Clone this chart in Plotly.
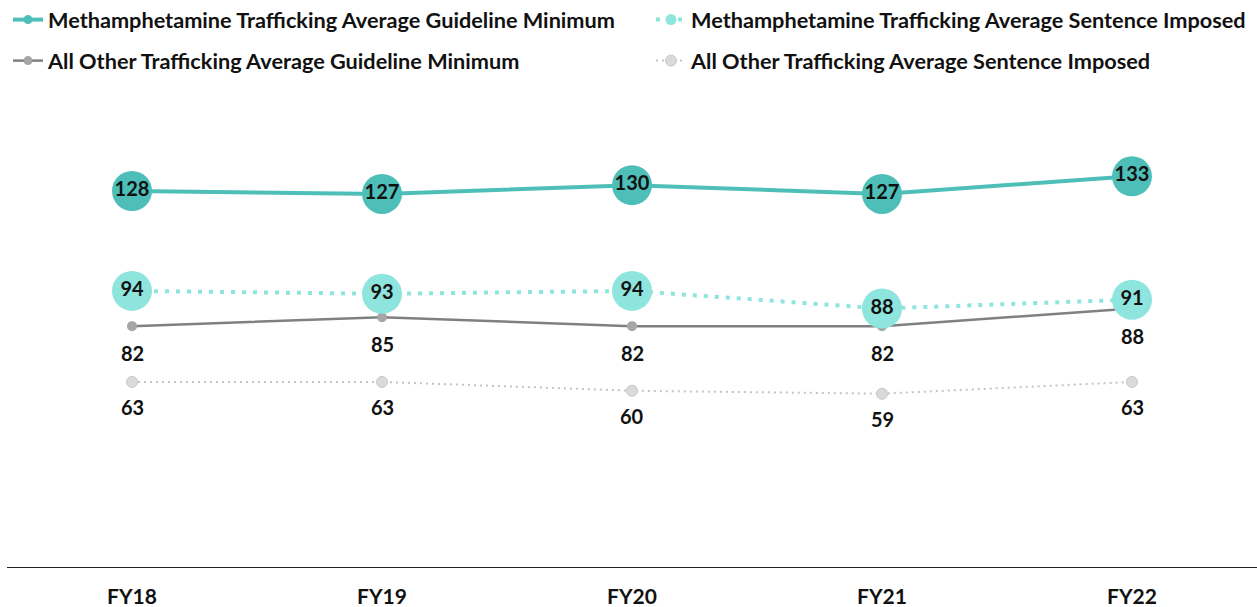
import plotly.graph_objects as go

years = ["FY18", "FY19", "FY20", "FY21", "FY22"]
meth_gm = [128, 127, 130, 127, 133]
meth_si = [94, 93, 94, 88, 91]
other_gm = [82, 85, 82, 82, 88]
other_si = [63, 63, 60, 59, 63]

names = [
    "Methamphetamine Trafficking Average Guideline Minimum",
    "Methamphetamine Trafficking Average Sentence Imposed",
    "All Other Trafficking Average Guideline Minimum",
    "All Other Trafficking Average Sentence Imposed",
]

C_MGM = "#4dbfb8"
C_MSI = "#8ee5de"
C_OGM_L = "#808080"
C_OGM_M = "#a6a6a6"
C_OSI_L = "#c4c4c4"
C_OSI_M = "#dadada"

FONT = "Lato, 'Open Sans', sans-serif"
lab_font = dict(family=FONT, size=20, color="#111111", weight=700)

fig = go.Figure()

# data traces (drawn back to front)
fig.add_trace(go.Scatter(
    x=years, y=other_si, mode="lines+markers",
    line=dict(color=C_OSI_L, width=2, dash="2px,4px"),
    marker=dict(size=11, color=C_OSI_M, line=dict(color="#c8c8c8", width=1)),
    showlegend=False, hoverinfo="skip"))
fig.add_trace(go.Scatter(
    x=years, y=other_gm, mode="lines+markers",
    line=dict(color=C_OGM_L, width=2.5),
    marker=dict(size=10, color=C_OGM_M),
    showlegend=False, hoverinfo="skip"))
fig.add_trace(go.Scatter(
    x=years, y=meth_si, mode="lines+markers+text", text=[str(v) for v in meth_si],
    textposition="middle center", textfont=lab_font,
    line=dict(color=C_MSI, width=4, dash="4px,7px"),
    marker=dict(size=40, color=C_MSI),
    showlegend=False, hoverinfo="skip"))
fig.add_trace(go.Scatter(
    x=years, y=meth_gm, mode="lines+markers+text", text=[str(v) for v in meth_gm],
    textposition="middle center", textfont=lab_font,
    line=dict(color=C_MGM, width=4),
    marker=dict(size=40, color=C_MGM),
    showlegend=False, hoverinfo="skip"))

# labels below grey series
annotations = []
for series, shift in ((other_gm, -27), (other_si, -25)):
    for xv, yv in zip(years, series):
        annotations.append(dict(x=xv, y=yv, text=str(yv), showarrow=False,
                                xref="x", yref="y", yshift=shift, yanchor="middle",
                                font=lab_font))

# legend entries, one legend each for exact placement
leg_specs = [
    (names[0], dict(color=C_MGM, width=4), dict(size=9, color=C_MGM)),
    (names[1], dict(color=C_MSI, width=4, dash="4px,7px"), dict(size=11, color=C_MSI)),
    (names[2], dict(color=C_OGM_L, width=2.5), dict(size=9, color=C_OGM_M)),
    (names[3], dict(color=C_OSI_L, width=2, dash="2px,4px"),
     dict(size=11, color=C_OSI_M, line=dict(color="#c8c8c8", width=1))),
]
leg_ids = ["legend", "legend2", "legend3", "legend4"]
for (nm, ln, mk), lg in zip(leg_specs, leg_ids):
    fig.add_trace(go.Scatter(x=[None], y=[None], mode="lines+markers", name=nm,
                             line=ln, marker=mk, legend=lg, showlegend=True))

leg_common = dict(orientation="h", xanchor="left", yanchor="middle",
                  font=dict(family=FONT, size=21.7, color="#111111", weight=700),
                  itemsizing="trace", bgcolor="rgba(0,0,0,0)")

PT, PB, PL, PR = 97, 40, 7, 0
PH = 607 - PT - PB
PW = 1257 - PL - PR


def px_x(px):
    return (px - PL) / PW


def px_y(py):
    return (607 - PB - py) / PH


fig.update_layout(
    width=1257, height=607,
    margin=dict(l=PL, r=PR, t=PT, b=PB, autoexpand=False),
    paper_bgcolor="white", plot_bgcolor="white",
    legend=dict(x=px_x(8), y=px_y(20), **leg_common),
    legend2=dict(x=px_x(651), y=px_y(20), **leg_common),
    legend3=dict(x=px_x(8), y=px_y(61), **leg_common),
    legend4=dict(x=px_x(651), y=px_y(61), **leg_common),
    annotations=annotations,
    xaxis=dict(type="category", range=[-0.5, 4.5], showgrid=False, zeroline=False,
               showline=True, linecolor="#222222", linewidth=1,
               ticks="", ticklabelstandoff=11,
               tickfont=dict(family=FONT, size=21, color="#111111", weight=700),
               fixedrange=True),
    yaxis=dict(range=[0, 160], visible=False, showgrid=False, zeroline=False, fixedrange=True),
    hovermode=False,
)

fig.write_html("out.html", config={"displayModeBar": False},
               post_script="document.body.style.margin='0px';document.body.style.padding='0px';")
